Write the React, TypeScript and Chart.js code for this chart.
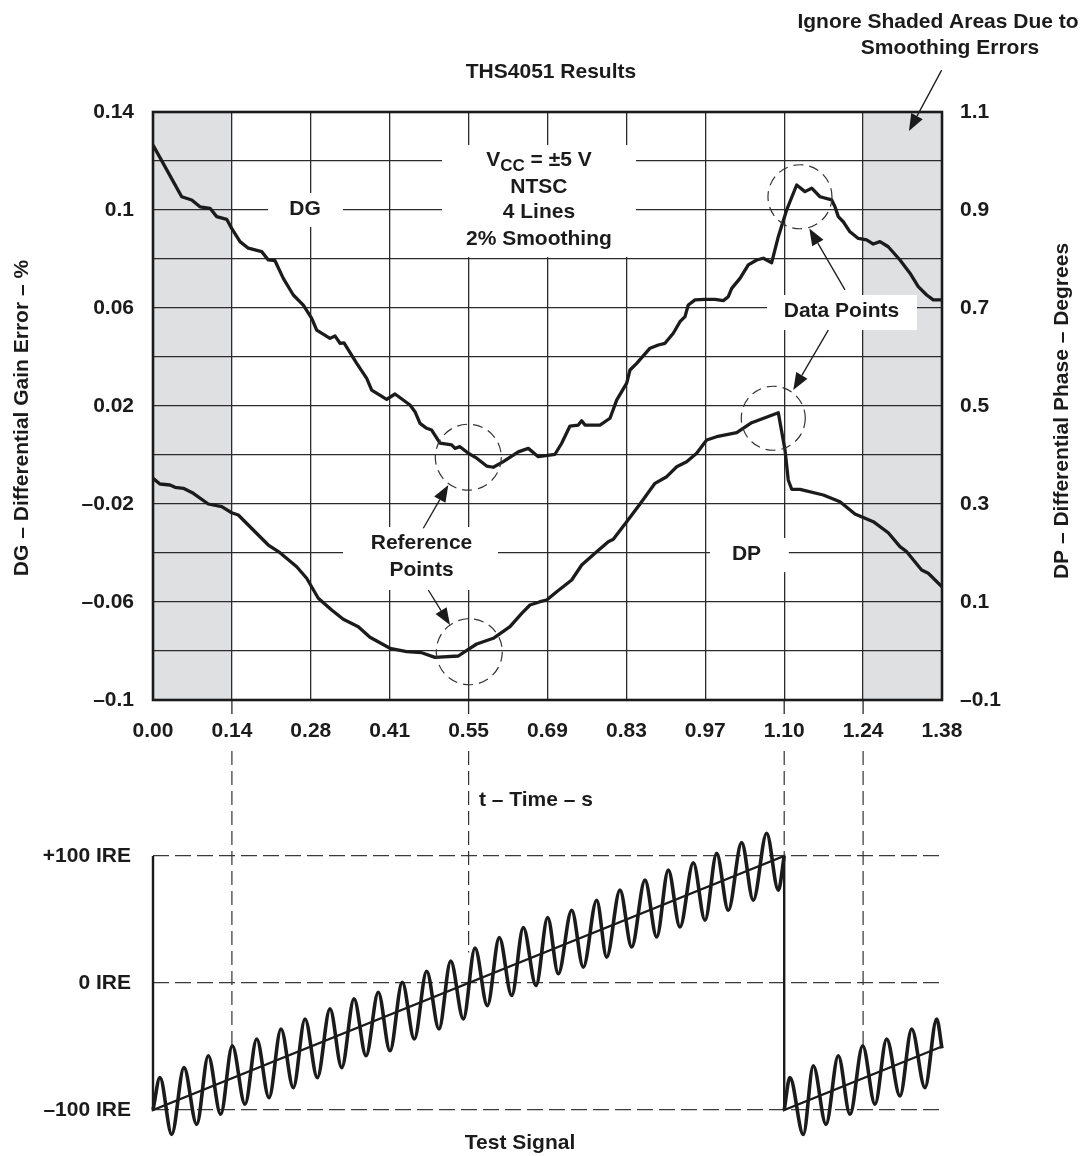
import React, { useEffect, useRef } from "react";
import { Chart, registerables } from "chart.js";

Chart.register(...registerables);

const FONT = "'Liberation Sans', Arial, Helvetica, sans-serif";
const INK = "#1b1b1b";
const GRID = "#2b2b2b";
const SHADE = "#dfe0e2";

// ---------------- Top chart: axes ----------------
const xTickValues = [0, 0.138, 0.276, 0.414, 0.552, 0.69, 0.828, 0.966, 1.104, 1.242, 1.38];
const xTickLabels = ["0.00", "0.14", "0.28", "0.41", "0.55", "0.69", "0.83", "0.97", "1.10", "1.24", "1.38"];
const dgTickValues = [-0.1, -0.08, -0.06, -0.04, -0.02, 0, 0.02, 0.04, 0.06, 0.08, 0.1, 0.12, 0.14];
const dgTickLabels = ["–0.1", "", "–0.06", "", "–0.02", "", "0.02", "", "0.06", "", "0.1", "", "0.14"];
const dpTickValues = [-0.1, 0, 0.1, 0.2, 0.3, 0.4, 0.5, 0.6, 0.7, 0.8, 0.9, 1.0, 1.1];
const dpTickLabels = ["–0.1", "", "0.1", "", "0.3", "", "0.5", "", "0.7", "", "0.9", "", "1.1"];

// ---------------- Top chart: series ----------------
const dgTime = [
  0, 0.021, 0.0355, 0.0502, 0.0677, 0.0822, 0.0997, 0.1114, 0.1289, 0.1376,
  0.1522, 0.1667, 0.1901, 0.2017, 0.2134, 0.2279, 0.2454, 0.2629, 0.2776, 0.2863,
  0.3096, 0.3183, 0.3271, 0.3341, 0.3563, 0.3738, 0.3825, 0.4087, 0.4233, 0.4495,
  0.4582, 0.467, 0.4787, 0.4874, 0.502, 0.5224, 0.5282, 0.5369, 0.5515, 0.5662,
  0.5836, 0.5952, 0.6127, 0.6389, 0.6564, 0.6739, 0.7031, 0.7148, 0.7293, 0.7438,
  0.7498, 0.7556, 0.7818, 0.7993, 0.811, 0.8285, 0.8343, 0.846, 0.8693, 0.8838,
  0.8955, 0.91, 0.9217, 0.9305, 0.9362, 0.948, 0.9654, 0.9829, 0.9975, 1.0062,
  1.0122, 1.0267, 1.0412, 1.0559, 1.0674, 1.0821, 1.0937, 1.1083, 1.1258, 1.1403,
  1.1521, 1.1666, 1.1871, 1.1928, 1.1986, 1.2073, 1.219, 1.2336, 1.2482, 1.2598,
  1.2715, 1.286, 1.3065, 1.324, 1.3385, 1.3532, 1.3647, 1.38,
];
const dgValues = [
  0.1265, 0.1177, 0.1116, 0.1054, 0.1041, 0.1013, 0.1007, 0.0973, 0.0962, 0.0925,
  0.0871, 0.0844, 0.083, 0.0796, 0.0793, 0.0721, 0.0653, 0.0612, 0.0558, 0.051,
  0.0476, 0.0486, 0.0456, 0.0458, 0.0374, 0.0313, 0.0265, 0.0227, 0.0249, 0.0204,
  0.0177, 0.0129, 0.0109, 0.0102, 0.0048, 0.0041, 0.0027, 0.0034, 0.0007, -0.0013,
  -0.0045, -0.005, -0.0027, 0.0013, 0.0027, -0.0007, 0.0003, 0.0048, 0.0118, 0.0122,
  0.014, 0.0122, 0.0122, 0.015, 0.0224, 0.0293, 0.0347, 0.0374, 0.0436, 0.0449,
  0.0456, 0.0497, 0.0544, 0.0565, 0.0612, 0.0633, 0.0635, 0.0635, 0.063, 0.0646,
  0.068, 0.0721, 0.0776, 0.0796, 0.0803, 0.0785, 0.0891, 0.1, 0.1102, 0.1075,
  0.1089, 0.1054, 0.1041, 0.1013, 0.0973, 0.0952, 0.0911, 0.0884, 0.0878, 0.0861,
  0.0871, 0.085, 0.0796, 0.0742, 0.0687, 0.0653, 0.0633, 0.0633,
];
const dpTime = [
  0, 0.0122, 0.0297, 0.0385, 0.053, 0.0705, 0.0967, 0.1202, 0.1376, 0.1492,
  0.1754, 0.2017, 0.2221, 0.2513, 0.2688, 0.2891, 0.3125, 0.3328, 0.3591, 0.3795,
  0.4145, 0.4437, 0.47, 0.4932, 0.534, 0.5515, 0.5662, 0.5952, 0.6244, 0.6449,
  0.6594, 0.6769, 0.6886, 0.7061, 0.7323, 0.7498, 0.776, 0.7963, 0.8051, 0.8285,
  0.8518, 0.878, 0.8985, 0.916, 0.9334, 0.9509, 0.9684, 0.9859, 1.0209, 1.0471,
  1.0937, 1.1054, 1.1111, 1.1171, 1.1316, 1.1724, 1.2016, 1.2278, 1.2598, 1.286,
  1.3065, 1.3182, 1.3444, 1.356, 1.38,
];
const dpValues = [
  0.3524, 0.3408, 0.3388, 0.3341, 0.332, 0.3218, 0.3, 0.2945, 0.2822, 0.2776,
  0.2469, 0.2163, 0.2006, 0.172, 0.1484, 0.1076, 0.0837, 0.0647, 0.0496, 0.028,
  0.0055, -0.0014, -0.0035, -0.0129, -0.0102, 0.0035, 0.0143, 0.0259, 0.0496, 0.0769,
  0.0939, 0.1006, 0.1041, 0.121, 0.1449, 0.1755, 0.2027, 0.2231, 0.228, 0.2639,
  0.3, 0.3422, 0.3557, 0.3761, 0.3863, 0.4035, 0.4306, 0.4373, 0.4455, 0.4659,
  0.4863, 0.4102, 0.349, 0.33, 0.33, 0.3184, 0.3047, 0.2796, 0.2639, 0.2414,
  0.2129, 0.2027, 0.1653, 0.1586, 0.1312,
];
const shadedRanges = [
  [0, 0.138],
  [1.242, 1.38],
];

// ---------------- Test signal ----------------
const ireTickValues = [-100, 0, 100];
const ireTickLabels = ["–100 IRE", "0 IRE", "+100 IRE"];
const rampTime = [0, 0, 1.104, 1.104, 1.38];
const rampIre = [100, -100, 100, -100, -50];
const wave1Time = [
  0, 0.0122, 0.0327, 0.0542, 0.0764, 0.0967, 0.1184, 0.1387, 0.1609, 0.1814,
  0.2029, 0.2239, 0.2454, 0.2659, 0.2874, 0.3096, 0.3301, 0.3516, 0.3726, 0.394,
  0.4145, 0.436, 0.457, 0.4787, 0.5002, 0.5207, 0.5428, 0.5632, 0.5848, 0.6057,
  0.6274, 0.6477, 0.6699, 0.6903, 0.7089, 0.7323, 0.7526, 0.776, 0.7935, 0.8168,
  0.8372, 0.8605, 0.881, 0.9013, 0.9217, 0.945, 0.9655, 0.9859, 1.0062, 1.0296,
  1.0499, 1.0733, 1.0937, 1.104,
];
const wave1Ire = [
  -100, -74.5, -119.2, -66.6, -111.3, -57.3, -103.4, -49.4, -95.5, -44.1,
  -90.3, -36.2, -82.4, -28.3, -74.5, -20.4, -66.6, -12.5, -57.3, -7.3,
  -53.4, 0.6, -44.1, 9.3, -36.2, 17.2, -28.3, 27.5, -17.8, 35.7,
  -9.9, 43.6, -2.0, 51.5, 7.3, 57.3, 12.5, 65.2, 20.4, 73.1,
  28.3, 81.0, 36.2, 88.9, 44.1, 94.7, 49.4, 102.1, 57.3, 110.5,
  65.2, 117.9, 73.1, 100,
];
const wave2Time = [
  1.104, 1.114, 1.1374, 1.1549, 1.1771, 1.1986, 1.2191, 1.2413, 1.2628, 1.2832,
  1.3065, 1.327, 1.3502, 1.3707, 1.38,
];
const wave2Ire = [
  -100, -74.5, -119.2, -65.2, -111.3, -57.3, -103.4, -49.4, -95.5, -44.1,
  -88.9, -36.2, -82.4, -28.3, -51.5,
];
const guideTimes = [0.138, 0.552, 1.104, 1.242];
const guideEndIre = [-49.4, 24, 100, -49.4];

// ---------------- Annotations (data coordinates; DG axis for y) ----------------
const whiteBoxes = [
  { x0: 0.5055, x1: 0.8448, y0: 0.1265, y1: 0.0808 },
  { x0: 0.2011, x1: 0.3323, y0: 0.1069, y1: 0.0931 },
  { x0: 1.0739, x1: 1.3362, y0: 0.0653, y1: 0.051 },
  { x0: 0.3323, x1: 0.6034, y0: -0.0294, y1: -0.0551 },
  { x0: 0.9742, x1: 1.112, y0: -0.0339, y1: -0.0478 },
];
const plotLabels = [
  { text: "NTSC", x: 0.675, y: 0.1094 },
  { text: "4 Lines", x: 0.675, y: 0.0992 },
  { text: "2% Smoothing", x: 0.675, y: 0.0882 },
  { text: "DG", x: 0.2658, y: 0.1004 },
  { text: "Data Points", x: 1.2042, y: 0.0585 },
  { text: "Reference", x: 0.4696, y: -0.0361 },
  { text: "Points", x: 0.4696, y: -0.0471 },
  { text: "DP", x: 1.038, y: -0.0406 },
];
const vccLabel = { x: 0.675, y: 0.1204 };
const dashedCircles = [
  { x: 1.1316, y: 0.1054, r: 32 },
  { x: 1.0849, y: 0.015, r: 32 },
  { x: 0.5515, y: -0.0009, r: 33 },
  { x: 0.5532, y: -0.0803, r: 33 },
];
const arrows = [
  { x0: 1.3794, y0: 0.1571, x1: 1.3222, y1: 0.1322 },
  { x0: 1.2103, y0: 0.0674, x1: 1.1479, y1: 0.0925 },
  { x0: 1.1811, y0: 0.051, x1: 1.1199, y1: 0.0265 },
  { x0: 0.4728, y0: -0.0299, x1: 0.5165, y1: -0.0122 },
  { x0: 0.4815, y0: -0.0551, x1: 0.5195, y1: -0.0694 },
];

const bold = (s: number) => `bold ${s}px ${FONT}`;

function drawArrow(ctx: CanvasRenderingContext2D, x0: number, y0: number, x1: number, y1: number) {
  const ang = Math.atan2(y1 - y0, x1 - x0);
  const L = 17;
  const W = 6.5;
  const bx = x1 - L * Math.cos(ang);
  const by = y1 - L * Math.sin(ang);
  ctx.beginPath();
  ctx.moveTo(x0, y0);
  ctx.lineTo(bx, by);
  ctx.stroke();
  ctx.beginPath();
  ctx.moveTo(x1, y1);
  ctx.lineTo(bx + W * Math.sin(ang), by - W * Math.cos(ang));
  ctx.lineTo(bx - W * Math.sin(ang), by + W * Math.cos(ang));
  ctx.closePath();
  ctx.fill();
}

function centeredText(ctx: CanvasRenderingContext2D, text: string, x: number, y: number, size = 21) {
  ctx.font = bold(size);
  ctx.textAlign = "center";
  ctx.textBaseline = "middle";
  ctx.fillText(text, x, y);
}

const topDecor = {
  id: "topDecor",
  beforeDraw(chart: any) {
    const { ctx, chartArea: a, scales } = chart;
    const x = scales.x;
    ctx.save();
    ctx.fillStyle = SHADE;
    for (const [t0, t1] of shadedRanges) {
      const p0 = x.getPixelForValue(t0);
      const p1 = x.getPixelForValue(t1);
      ctx.fillRect(p0, a.top, p1 - p0, a.bottom - a.top);
    }
    ctx.restore();
  },
  beforeDatasetsDraw(chart: any) {
    const { ctx, scales } = chart;
    const x = scales.x;
    const y = scales.y;
    ctx.save();
    ctx.fillStyle = "#ffffff";
    for (const b of whiteBoxes) {
      const px0 = x.getPixelForValue(b.x0);
      const px1 = x.getPixelForValue(b.x1);
      const py0 = y.getPixelForValue(b.y0);
      const py1 = y.getPixelForValue(b.y1);
      ctx.fillRect(px0, py0, px1 - px0, py1 - py0);
    }
    ctx.fillStyle = INK;
    for (const l of plotLabels) {
      centeredText(ctx, l.text, x.getPixelForValue(l.x), y.getPixelForValue(l.y));
    }
    // V_CC = ±5 V with subscript
    const cx = x.getPixelForValue(vccLabel.x);
    const cy = y.getPixelForValue(vccLabel.y);
    ctx.textBaseline = "middle";
    ctx.textAlign = "left";
    ctx.font = bold(21);
    const wV = ctx.measureText("V").width;
    const wRest = ctx.measureText(" = ±5 V").width;
    ctx.font = bold(17);
    const wSub = ctx.measureText("CC").width;
    let sx = cx - (wV + wSub + wRest) / 2;
    ctx.font = bold(21);
    ctx.fillText("V", sx, cy);
    sx += wV;
    ctx.font = bold(17);
    ctx.fillText("CC", sx, cy + 6);
    sx += wSub;
    ctx.font = bold(21);
    ctx.fillText(" = ±5 V", sx, cy);
    ctx.restore();
  },
  afterDatasetsDraw(chart: any) {
    const { ctx, chartArea: a, scales } = chart;
    const x = scales.x;
    const y = scales.y;
    ctx.save();
    // dashed circles
    ctx.strokeStyle = "#333";
    ctx.lineWidth = 1.2;
    ctx.setLineDash([10, 6]);
    for (const c of dashedCircles) {
      ctx.beginPath();
      ctx.arc(x.getPixelForValue(c.x), y.getPixelForValue(c.y), c.r, 0, Math.PI * 2);
      ctx.stroke();
    }
    ctx.setLineDash([]);
    // arrows
    ctx.strokeStyle = INK;
    ctx.fillStyle = INK;
    ctx.lineWidth = 1.3;
    for (const ar of arrows) {
      drawArrow(ctx, x.getPixelForValue(ar.x0), y.getPixelForValue(ar.y0), x.getPixelForValue(ar.x1), y.getPixelForValue(ar.y1));
    }
    // stubs below axis for guide lines
    ctx.strokeStyle = GRID;
    ctx.lineWidth = 1.3;
    for (const t of guideTimes) {
      const px = x.getPixelForValue(t);
      ctx.beginPath();
      ctx.moveTo(px, a.bottom);
      ctx.lineTo(px, a.bottom + 14);
      ctx.stroke();
    }
    // frame
    ctx.strokeStyle = INK;
    ctx.lineWidth = 2.6;
    ctx.strokeRect(a.left, a.top, a.right - a.left, a.bottom - a.top);
    ctx.restore();
  },
  afterDraw(chart: any) {
    const { ctx } = chart;
    ctx.save();
    ctx.fillStyle = INK;
    centeredText(ctx, "THS4051 Results", 551, 72);
    centeredText(ctx, "Ignore Shaded Areas Due to", 938, 22);
    centeredText(ctx, "Smoothing Errors", 950, 48);
    centeredText(ctx, "t – Time – s", 536, 800);
    ctx.save();
    ctx.translate(22, 418);
    ctx.rotate(-Math.PI / 2);
    centeredText(ctx, "DG – Differential Gain Error – %", 0, 0);
    ctx.restore();
    ctx.save();
    ctx.translate(1062, 411);
    ctx.rotate(-Math.PI / 2);
    centeredText(ctx, "DP – Differential Phase – Degrees", 0, 0);
    ctx.restore();
    ctx.restore();
  },
};

const bottomDecor = {
  id: "bottomDecor",
  afterDatasetsDraw(chart: any) {
    const { ctx, scales } = chart;
    const x = scales.x;
    const y = scales.y;
    ctx.save();
    ctx.strokeStyle = "#333";
    ctx.lineWidth = 1.2;
    ctx.setLineDash([14, 6]);
    guideTimes.forEach((t, i) => {
      const px = x.getPixelForValue(t);
      ctx.beginPath();
      ctx.moveTo(px, 11);
      ctx.lineTo(px, y.getPixelForValue(guideEndIre[i]));
      ctx.stroke();
    });
    ctx.setLineDash([]);
    ctx.fillStyle = INK;
    centeredText(ctx, "Test Signal", 520, 403);
    ctx.restore();
  },
};

const tickFont = { family: FONT, size: 21, weight: "bold" as const };

export default function App() {
  const topRef = useRef<HTMLCanvasElement>(null);
  const botRef = useRef<HTMLCanvasElement>(null);

  useEffect(() => {
    const top = new Chart(topRef.current as HTMLCanvasElement, {
      type: "line",
      data: {
        datasets: [
          {
            label: "DG",
            data: dgTime.map((t, i) => ({ x: t, y: dgValues[i] })),
            yAxisID: "y",
            borderColor: INK,
            borderWidth: 3.3,
            pointRadius: 0,
            tension: 0,
            borderJoinStyle: "round",
          },
          {
            label: "DP",
            data: dpTime.map((t, i) => ({ x: t, y: dpValues[i] })),
            yAxisID: "y2",
            borderColor: INK,
            borderWidth: 3.3,
            pointRadius: 0,
            tension: 0,
            borderJoinStyle: "round",
          },
        ],
      },
      options: {
        responsive: false,
        maintainAspectRatio: false,
        animation: false,
        events: [],
        layout: { padding: { top: 112, left: 0, right: 0, bottom: 0 } },
        plugins: { legend: { display: false }, tooltip: { enabled: false }, title: { display: false } },
        scales: {
          x: {
            type: "linear",
            min: 0,
            max: 1.38,
            afterBuildTicks: (s: any) => {
              s.ticks = xTickValues.map((v) => ({ value: v }));
            },
            afterFit: (s: any) => {
              s.height = 120;
            },
            ticks: {
              autoSkip: false,
              maxRotation: 0,
              padding: 19,
              color: INK,
              font: tickFont,
              callback: (_v: any, i: number) => xTickLabels[i],
            },
            grid: { color: GRID, lineWidth: 1.3, drawTicks: false },
            border: { display: false },
          },
          y: {
            type: "linear",
            position: "left",
            min: -0.1,
            max: 0.14,
            afterBuildTicks: (s: any) => {
              s.ticks = dgTickValues.map((v) => ({ value: v }));
            },
            afterFit: (s: any) => {
              s.width = 153;
            },
            ticks: {
              autoSkip: false,
              padding: 19,
              color: INK,
              font: tickFont,
              callback: (_v: any, i: number) => dgTickLabels[i],
            },
            grid: { color: GRID, lineWidth: 1.3, drawTicks: false },
            border: { display: false },
          },
          y2: {
            type: "linear",
            position: "right",
            min: -0.1,
            max: 1.1,
            afterBuildTicks: (s: any) => {
              s.ticks = dpTickValues.map((v) => ({ value: v }));
            },
            afterFit: (s: any) => {
              s.width = 141;
            },
            ticks: {
              autoSkip: false,
              padding: 18,
              color: INK,
              font: tickFont,
              callback: (_v: any, i: number) => dpTickLabels[i],
            },
            grid: { display: false, drawTicks: false },
            border: { display: false },
          },
        },
      },
      plugins: [topDecor],
    } as any);

    const lineStyle = {
      borderColor: INK,
      pointRadius: 0,
      clip: false as const,
    };
    const bottom = new Chart(botRef.current as HTMLCanvasElement, {
      type: "line",
      data: {
        datasets: [
          {
            label: "Ramp",
            data: rampTime.map((t, i) => ({ x: t, y: rampIre[i] })),
            borderWidth: 2.4,
            tension: 0,
            ...lineStyle,
          },
          {
            label: "Chroma 1",
            data: wave1Time.map((t, i) => ({ x: t, y: wave1Ire[i] })),
            borderWidth: 3.6,
            cubicInterpolationMode: "monotone",
            ...lineStyle,
          },
          {
            label: "Chroma 2",
            data: wave2Time.map((t, i) => ({ x: t, y: wave2Ire[i] })),
            borderWidth: 3.6,
            cubicInterpolationMode: "monotone",
            ...lineStyle,
          },
        ],
      },
      options: {
        responsive: false,
        maintainAspectRatio: false,
        animation: false,
        events: [],
        layout: { padding: { top: 116, left: 0, right: 141, bottom: 46 } },
        plugins: { legend: { display: false }, tooltip: { enabled: false }, title: { display: false } },
        scales: {
          x: { type: "linear", min: 0, max: 1.38, display: false },
          y: {
            type: "linear",
            position: "left",
            min: -100,
            max: 100,
            afterBuildTicks: (s: any) => {
              s.ticks = ireTickValues.map((v) => ({ value: v }));
            },
            afterFit: (s: any) => {
              s.width = 153;
            },
            ticks: {
              autoSkip: false,
              padding: 22,
              color: INK,
              font: tickFont,
              callback: (_v: any, i: number) => ireTickLabels[i],
            },
            grid: { color: "#3a3a3a", lineWidth: 1.2, drawTicks: false },
            border: { display: false, dash: [16, 6] },
          },
        },
      },
      plugins: [bottomDecor],
    } as any);

    return () => {
      top.destroy();
      bottom.destroy();
    };
  }, []);

  return (
    <div style={{ position: "absolute", left: 0, top: 0, width: 1083, height: 1156, background: "#ffffff" }}>
      <canvas
        ref={topRef}
        width={1083}
        height={820}
        style={{ position: "absolute", left: 0, top: 0, width: 1083, height: 820 }}
      />
      <canvas
        ref={botRef}
        width={1083}
        height={416}
        style={{ position: "absolute", left: 0, top: 740, width: 1083, height: 416 }}
      />
    </div>
  );
}
